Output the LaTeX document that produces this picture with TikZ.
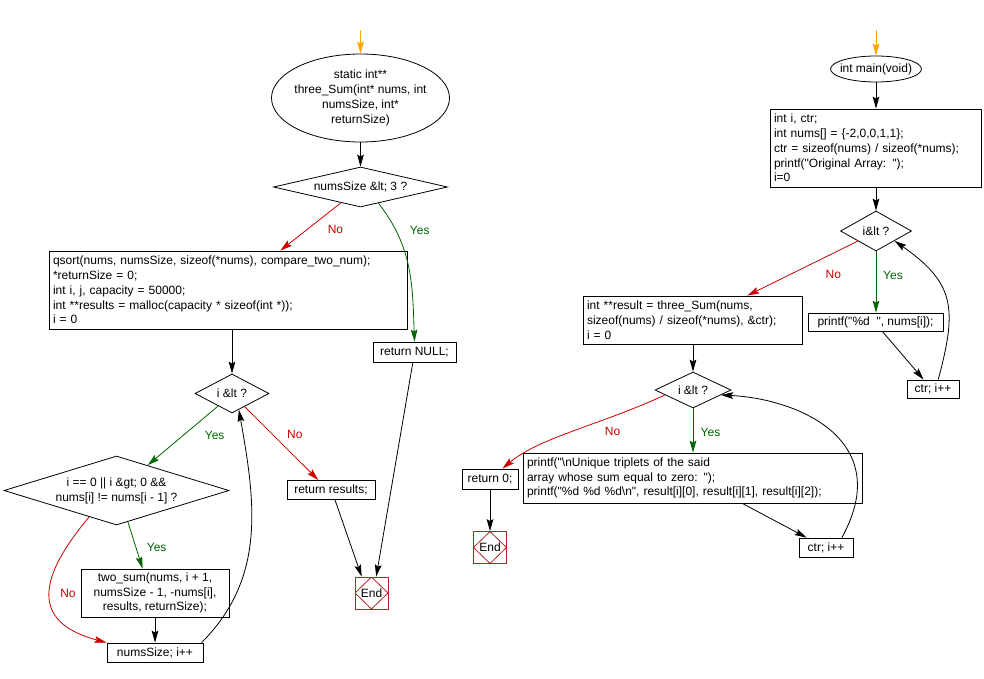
\documentclass[tikz,border=0pt]{standalone}
\usepackage{fontspec}
\setmainfont{Liberation Sans}[Ligatures=TeXOff]
\usetikzlibrary{shapes.geometric,arrows.meta}
\definecolor{noRed}{RGB}{204,0,0}
\definecolor{yesGreen}{RGB}{0,102,0}
\definecolor{startOrange}{RGB}{255,165,0}
\definecolor{endRed}{RGB}{170,40,40}

\begin{document}
\begin{tikzpicture}[x=0.75pt,y=-0.75pt,
  font=\fontsize{9}{11.1}\selectfont, line width=0.6pt,
  arr/.style={-{Stealth[length=9pt,width=5pt,inset=1.5pt]}},
  startarr/.style={draw=startOrange},
  nopath/.style={draw=noRed},
  yespath/.style={draw=yesGreen},
  nolbl/.style={text=noRed, inner sep=0pt},
  yeslbl/.style={text=yesGreen, inner sep=0pt},
  stmt/.style={draw, rectangle, align=left, inner xsep=3pt, inner ysep=0pt},
  simple/.style={draw, rectangle, align=center, inner sep=0pt},
  decide/.style={draw, diamond, inner sep=0pt},
  startell/.style={draw, ellipse, inner sep=0pt},
  endbox/.style={draw=endRed, rectangle, inner sep=0pt, minimum width=24.75pt, minimum height=24pt,
    path picture={\draw[endRed] (path picture bounding box.north) -- (path picture bounding box.east)
      -- (path picture bounding box.south) -- (path picture bounding box.west) -- cycle;}}]
\path[fill=white, use as bounding box] (0,0) rectangle (984,678);

% three_Sum
\coordinate (s1) at (360.5,30);
\node[startell, minimum width=133.5pt, minimum height=66pt,
  label={[align=center]center:{static int**\\three\_Sum(int* nums, int\\numsSize, int*\\returnSize)}}] (ell1) at (360.5,98) {};
\node[decide, minimum width=130.5pt, minimum height=30pt, label={center:{numsSize \&lt; 3 ?}}] (dec1) at (360.5,187) {};
\node[stmt, text width=262.5pt, minimum height=58.5pt] (box1) at (228,290)
  {qsort(nums, numsSize, sizeof(*nums), compare\_two\_num);\\{}*returnSize = 0;\\int i, j, capacity = 50000;\\int **results = malloc(capacity * sizeof(int *));\\i = 0};
\node[simple, minimum width=62.25pt, minimum height=15pt] (rnull) at (414.5,352) {return NULL;};
\node[decide, minimum width=55.5pt, minimum height=29.25pt, label={center:{i \&lt ?}}] (dec2) at (232,393.5) {};
\node[decide, minimum width=168.75pt, minimum height=51.75pt,
  label={[align=center]center:{i == 0 || i \&gt; 0 \&\&\\nums[i] != nums[i - 1] ?}}] (dec3) at (116.5,490.5) {};
\node[simple, minimum width=111pt, minimum height=36pt] (tsum) at (155,593)
  {two\_sum(nums, i + 1,\\numsSize - 1, -nums[i],\\results, returnSize);};
\node[simple, minimum width=72pt, minimum height=14.25pt] (inc1) at (155,652.5) {numsSize; i++};
\node[simple, minimum width=66pt, minimum height=14.25pt] (rres) at (331,490) {return results;};
\node[endbox] (end1) at (371.5,593) {End};

\path[arr]
  (s1) edge[startarr] (ell1.north)
  (ell1.south) edge (dec1.north)
  (dec1.219) edge[nopath] node[nolbl, pos=0.5, shift={(24.8,3.2)}] {No} (box1.37)
  (dec1.318) edge[yespath, out=-52, in=92] node[yeslbl, pos=0.2, shift={(24.5,1)}] {Yes} (rnull.north)
  (dec2.north |- box1.south) edge (dec2.north)
  (dec2.222) edge[yespath] node[yeslbl, pos=0.5, shift={(31.8,-0.7)}] {Yes} (dec3.39)
  (dec2.314) edge[nopath] node[nolbl, pos=0.5, shift={(13.4,-8.5)}] {No} (rres.142)
  (dec3.290) edge[yespath] node[yeslbl, pos=0.5, shift={(21.4,1.7)}] {Yes} (tsum.117)
  (dec3.224) edge[nopath, out=230, in=165, looseness=1.6] node[nolbl, pos=0.5, shift={(18,-1)}] {No} (inc1.north west)
  (tsum.south) edge (inc1.north)
  (inc1.12) edge[out=45, in=-80] (dec2.293)
  (rres.292) edge (end1.121)
  (rnull.261) edge (end1.74);

% main
\coordinate (s2) at (876,30);
\node[startell, minimum width=68.25pt, minimum height=19.5pt, label={center:{int main(void)}}] (ell2) at (876,69) {};
\node[stmt, text width=152.25pt, minimum height=58.5pt] (box2) at (875.5,148)
  {int i, ctr;\\int nums[] = \{-2,0,0,1,1\};\\ctr = sizeof(nums) / sizeof(*nums);\\printf("Original Array: ");\\i=0};
\node[decide, minimum width=53.25pt, minimum height=30pt, label={center:{i\&lt ?}}] (dec4) at (876,231) {};
\node[stmt, text width=158.25pt, minimum height=36pt] (box3) at (692.5,320)
  {int **result = three\_Sum(nums,\\sizeof(nums) / sizeof(*nums), \&ctr);\\i = 0};
\node[simple, minimum width=101.25pt, minimum height=13.5pt] (pr1) at (875.5,322) {printf("\%d~~", nums[i]);};
\node[simple, minimum width=39pt, minimum height=13.5pt] (inc2) at (933,389) {ctr; i++};
\node[decide, minimum width=57pt, minimum height=27pt, label={center:{i \&lt ?}}] (dec5) at (693,390) {};
\node[simple, minimum width=42pt, minimum height=15pt] (rzero) at (490,479) {return 0;};
\node[stmt, text width=248.25pt, minimum height=37.5pt] (box4) at (692.5,478)
  {printf("\textbackslash nUnique triplets of the said\\array whose sum equal to zero: ");\\printf("\%d \%d \%d\textbackslash n", result[i][0], result[i][1], result[i][2]);};
\node[endbox] (end2) at (490,547.5) {End};
\node[simple, minimum width=40.5pt, minimum height=14.25pt] (inc3) at (826,547.5) {ctr; i++};

\path[arr]
  (s2) edge[startarr] (ell2.north)
  (ell2.south) edge (ell2.south |- box2.north)
  (dec4.north |- box2.south) edge (dec4.north)
  (dec4.209) edge[nopath] node[nolbl, pos=0.5, shift={(30.7,6.5)}] {No} (box3.24)
  (dec4.south) edge[yespath] node[yeslbl, pos=0.5, shift={(17,-7)}] {Yes} (dec4.south |- pr1.north)
  (pr1.306) edge (inc2.135)
  (inc2.61) edge[out=75, in=-35, looseness=1.3] (dec4.332)
  (dec5.north |- box3.south) edge (dec5.north)
  (dec5.190) edge[nopath, out=205, in=40, in looseness=0.7] node[nolbl, pos=0.5, shift={(38.6,0.4)}] {No} (rzero.40)
  (dec5.south) edge[yespath] node[yeslbl, pos=0.5, shift={(17.5,1.5)}] {Yes} (dec5.south |- box4.north)
  (box4.333) edge (inc3.153)
  (inc3.32) edge[out=61, in=-3, out looseness=1.5, in looseness=1.1] (dec5.350)
  (rzero.south) edge (end2.north);
\end{tikzpicture}
\end{document}
